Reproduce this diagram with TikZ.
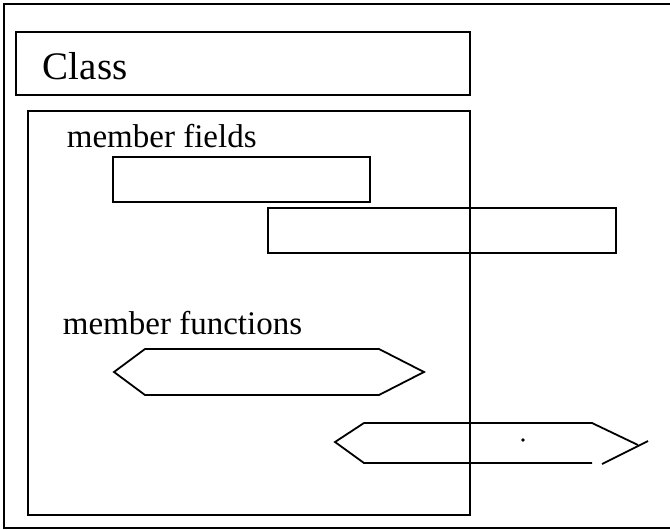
\documentclass[tikz,border=0pt]{standalone}
\usepackage{fontspec}
\setmainfont{Liberation Serif}
\usepackage{tikz}
\usetikzlibrary{
  	positioning,
  	calc,
  	fit
  }
\tikzstyle{frame}=[draw,line width=0.9pt,inner sep=0pt]
\tikzstyle{lbl}=[anchor=base west,inner sep=0pt,font=\fontsize{16.5}{18}\selectfont]

\begin{document}
\begin{tikzpicture}[x=0.5pt,y=-0.5pt,line width=0.9pt]
  \useasboundingbox (0,0) rectangle (670,530);
  % outer frame, open to the right
  \draw (670,4) -- (4,4) -- (4,528) -- (670,528);
%
  \node [frame, fit={(16,32) (470,95)}] (classbox) {};
  \node [lbl, font=\fontsize{19.5}{22}\selectfont] at (42,79) (classname) {Class};
  \node [frame, fit={(28,111) (470,515)}] (body) {};
%
  \node [lbl] at (66,147) (fields) {member fields};
  \node [frame, fit={(113,157) (370,202)}] (fieldA) {};
  \node [frame, fit={(268,208) (616,253)}] (fieldB) {};
%
  \node [lbl] at (62,334) (funcs) {member functions};
  \coordinate (fa1) at (114,372);
  \coordinate (fa2) at (145,349);
  \coordinate (fa3) at (379,349);
  \coordinate (fa4) at (424,372);
  \coordinate (fa5) at (379,395);
  \coordinate (fa6) at (145,395);
  \draw (fa1) -- (fa2) -- (fa3) -- (fa4) -- (fa5) -- (fa6) -- cycle;
%
  \coordinate (fb1) at (335,442);
  \coordinate (fb2) at (364,423);
  \coordinate (fb3) at (592,423);
  \coordinate (fb4) at (638,445);
  \coordinate (fb5) at (648,441);
  \coordinate (fb6) at (602,464);
  \coordinate (fb7) at (592,463);
  \coordinate (fb8) at (364,463);
  \draw (fb4) -- (fb3) -- (fb2) -- (fb1) -- (fb8) -- (fb7);
  \draw (fb6) -- (fb5);
  \fill (523,440) circle (1.8);
\end{tikzpicture}
\end{document}
